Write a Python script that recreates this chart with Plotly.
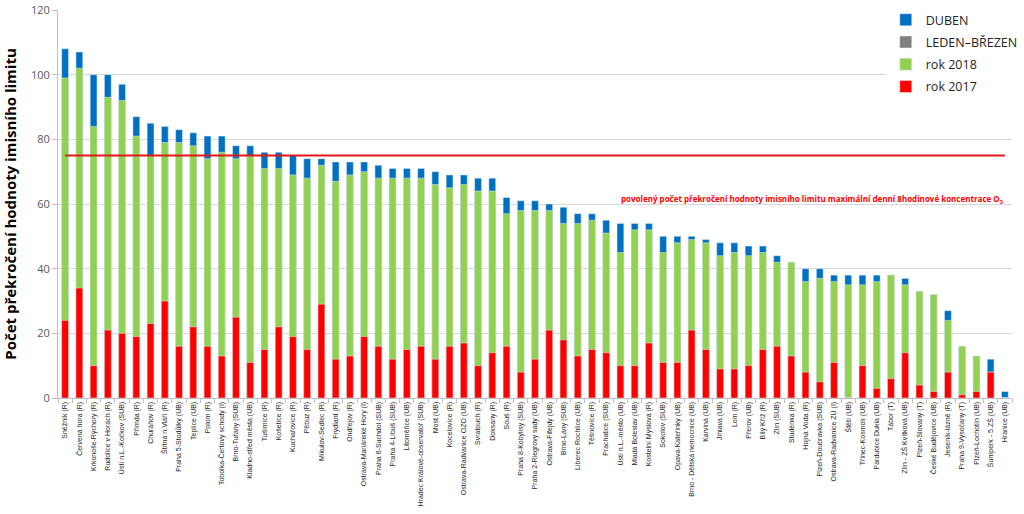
import plotly.graph_objects as go

stations = [
    "Sněžník (R)", "Červená hora (R)", "Krkonoše-Rýchory (R)", "Rudolice v Horách (R)",
    "Ústí n.L.-Kočkov (SUB)", "Přimda (R)", "Churáňov (R)", "Štítná n.Vláří (R)",
    "Praha 5-Stodůlky (UB)", "Teplice (UB)", "Polom (R)", "Tobolka-Čertovy schody (I)",
    "Brno-Tuřany (SUB)", "Kladno-střed města (UB)", "Tušimice (R)", "Košetice (R)",
    "Kuchařovice (R)", "Pěbuz (R)", "Mikulov-Sedlec (R)", "Frýdlant (R)", "Ondřejov (R)",
    "Ostrava-Mariánské Hory (I)", "Praha 6-Suchdol (SUB)", "Praha 4-Libuš (SUB)",
    "Litoměřice (UB)", "Hradec Králové-observatoř (SUB)", "Most (UB)", "Kocelovice (R)",
    "Ostrava-Radvanice OZO (UB)", "Svratouch (R)", "Doksany (R)", "Souš (R)",
    "Praha 8-Kobylisy (SUB)", "Praha 2-Riegrovy sady (UB)", "Ostrava-Fifejdy (UB)",
    "Brno-Lány (SUB)", "Liberec Rochlice (UB)", "Těšnovice (R)", "Prachatice (SUB)",
    "Ústí n.L.-město (UB)", "Mladá Boleslav (UB)", "Kostelní Myslová (R)", "Sokolov (SUB)",
    "Opava-Kateřinky (UB)", "Brno - Dětská nemocnice (UB)", "Karviná (UB)", "Jihlava (UB)",
    "Lom (R)", "Přerov (UB)", "Bílý Kříž (R)", "Zlín (SUB)", "Studénka (R)", "Hojná Voda (R)",
    "Plzeň-Doubravka (SUB)", "Ostrava-Radvanice ZÚ (I)", "Štětí (UB)", "Třinec-Kosmos (UB)",
    "Pardubice Dukla (UB)", "Tábor (T)", "Zlín - ZŠ Kvítková (UB)", "Plzeň-Slovany (T)",
    "České Budějovice (UB)", "Jeseník-lázně (R)", "Praha 9-Vysočany (T)",
    "Plzeň-Lochotín (UB)", "Šumperk - 5.ZŠ (UB)", "Hranice (UB)",
]

# rok 2017 (red, drawn from 0)
rok2017 = [24, 34, 10, 21, 20, 19, 23, 30, 16, 22, 16, 13, 25, 11, 15, 22,
           19, 15, 29, 12, 13, 19, 16, 12, 15, 16, 12, 16, 17, 10, 14, 16,
           8, 12, 21, 18, 13, 15, 14, 10, 10, 17, 11, 11, 21, 15, 9, 9, 10, 15,
           16, 13, 8, 5, 11, 0, 10, 3, 6, 14, 4, 2, 8, 1, 2, 8, 0]
# rok 2018 (green, top of green bar)
rok2018 = [99, 102, 84, 93, 92, 81, 75, 79, 79, 78, 74, 76, 74, 75, 71, 71,
           69, 68, 72, 67, 69, 70, 68, 68, 68, 68, 66, 65, 66, 64, 64, 57,
           58, 58, 58, 54, 54, 55, 51, 45, 52, 52, 45, 48, 49, 48, 44, 45, 44, 45,
           42, 42, 36, 37, 36, 35, 35, 36, 38, 35, 33, 32, 24, 16, 13, 8, 0]
# DUBEN (blue, top of whole bar)
duben = [108, 107, 100, 100, 97, 87, 85, 84, 83, 82, 81, 81, 78, 78, 76, 76,
         75, 74, 74, 73, 73, 73, 72, 71, 71, 71, 70, 69, 69, 68, 68, 62,
         61, 61, 60, 59, 57, 57, 55, 54, 54, 54, 50, 50, 50, 49, 48, 48, 47, 47,
         44, 42, 40, 40, 38, 38, 38, 38, 38, 37, 33, 32, 27, 16, 13, 12, 2]
leden_brezen = [None] * len(stations)

LIMIT = 75
limit_text = ("povolený počet překročení hodnoty imisního limitu maximální denní "
              "8hodinové koncentrace O<sub>3</sub>")

BLUE = "#0070C0"
GRAY = "#808080"
GREEN = "#92D050"
RED = "#FF0000"

fig = go.Figure()
fig.add_trace(go.Bar(x=stations, y=duben, name="DUBEN", marker_color=BLUE,
                     legendgroup="a"))
fig.add_trace(go.Bar(x=stations, y=leden_brezen, name="LEDEN–BŘEZEN", marker_color=GRAY,
                     legendgroup="b"))
fig.add_trace(go.Bar(x=stations, y=rok2018, name="rok 2018", marker_color=GREEN,
                     legendgroup="c"))
fig.add_trace(go.Bar(x=stations, y=rok2017, name="rok 2017", marker_color=RED,
                     legendgroup="d"))
fig.add_trace(go.Scatter(x=[stations[0], stations[-1]], y=[LIMIT, LIMIT], mode="lines",
                         line=dict(color="#E0191B", width=2), showlegend=False,
                         hoverinfo="skip"))

fig.add_annotation(text=limit_text, xref="paper", yref="y", x=0.993, y=61.5,
                   xanchor="right", yanchor="middle", showarrow=False,
                   font=dict(family="Open Sans", size=8.0, color="#FF0000", weight="bold"))

fig.update_layout(
    width=1024, height=514,
    margin=dict(l=58, r=12, t=10, b=115.5, autoexpand=False),
    barmode="overlay", bargap=0.52,
    plot_bgcolor="white", paper_bgcolor="white",
    font=dict(family="Open Sans", color="#404040"),
    legend=dict(xref="container", yref="container", x=0.865, y=0.99,
                xanchor="left", yanchor="top",
                bgcolor="white", font=dict(size=12.5, color="#262626"),
                traceorder="grouped", tracegroupgap=3, itemwidth=30),
    showlegend=True,
)
fig.update_xaxes(type="category", tickangle=-90,
                 tickfont=dict(size=7, family="Liberation Sans", color="#262626"),
                 showline=True, linecolor="#BFBFBF", ticks="outside", ticklen=4,
                 tickcolor="#BFBFBF", tickson="boundaries", showgrid=False,
                 automargin=False,
                 range=[-0.5, len(stations) - 0.5])
fig.update_yaxes(range=[0, 120], dtick=20, showgrid=True, gridcolor="#D9D9D9",
                 showline=True, linecolor="#BFBFBF", ticks="outside", ticklen=5,
                 tickcolor="#BFBFBF", tickfont=dict(size=11, color="#595959"),
                 automargin=False,
                 title=dict(text="Počet překročení hodnoty imisního limitu", standoff=13,
                            font=dict(size=15, color="#000000", weight="bold")),
                 zeroline=False)

fig.write_html("out.html", config={"displayModeBar": False},
               post_script="document.body.style.margin='0';document.body.style.overflow='hidden';")
